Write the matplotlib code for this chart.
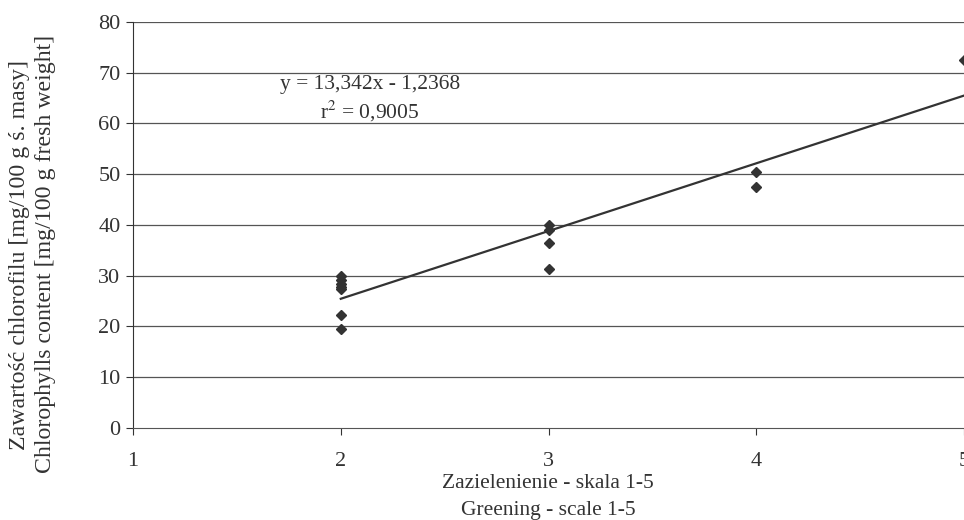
import matplotlib
matplotlib.use("Agg")
import matplotlib.pyplot as plt
import numpy as np

plt.rcParams['font.family'] = ['Liberation Serif', 'DejaVu Serif']

greening = [2, 2, 2, 2, 2, 2, 2, 3, 3, 3, 3, 4, 4, 5]
chlorophyll = [30.0, 29.2, 28.4, 27.8, 27.3, 22.2, 19.5, 40.0, 39.0, 36.5, 31.4, 50.5, 47.5, 72.5]
slope = 13.342
intercept = -1.2368
r2 = 0.9005
xticks = [1, 2, 3, 4, 5]
yticks = [0, 10, 20, 30, 40, 50, 60, 70, 80]

fig = plt.figure(figsize=(9.64, 5.2), dpi=100)
ax = fig.add_axes([0.138, 0.177, 0.862, 0.781])

for yv in yticks[1:]:
    ax.axhline(yv, color='#555555', lw=0.9, zorder=1)

xl = np.array([min(greening), max(greening)])
ax.plot(xl, slope * xl + intercept, color='#333333', lw=1.6, zorder=2)
ax.plot(greening, chlorophyll, linestyle='none', marker='D', color='#333333',
        markersize=5.5, zorder=3, clip_on=False)

ax.set_xlim(1, 5)
ax.set_ylim(0, 80)
ax.set_xticks(xticks)
ax.set_yticks(yticks)
for s in ['top', 'right']:
    ax.spines[s].set_visible(False)
ax.spines['left'].set_color('#333333')
ax.spines['bottom'].set_color('#555555')
ax.tick_params(axis='both', direction='out', length=5, color='#333333',
               labelsize=16, labelcolor='#333333')
ax.tick_params(axis='x', pad=12)
ax.tick_params(axis='y', pad=4)

fig.text(370 / 964, 1 - 84 / 520,
         f"y = {slope:.3f}x - {abs(intercept):.4f}".replace('.', ','),
         fontsize=15.5, color='#333333', ha='center', va='center')
fig.text(370 / 964, 1 - 111 / 520, r"r$^{2}$ = " + f"{r2:.4f}".replace('.', ','),
         fontsize=15.5, color='#333333', ha='center', va='center',
         math_fontfamily='stix')

fig.text(548 / 964, 1 - 483 / 520, "Zazielenienie - skala 1-5", fontsize=15.5,
         color='#333333', ha='center', va='center')
fig.text(548 / 964, 1 - 510 / 520, "Greening - scale 1-5", fontsize=15.5,
         color='#333333', ha='center', va='center')
fig.text(20 / 964, 1 - 255 / 520, "Zawartość chlorofilu [mg/100 g ś. masy]",
         fontsize=17.2, color='#333333', ha='center', va='center', rotation=90)
fig.text(46 / 964, 1 - 254 / 520, "Chlorophylls content [mg/100 g fresh weight]",
         fontsize=17.2, color='#333333', ha='center', va='center', rotation=90)

fig.savefig("out.png", dpi=100)
